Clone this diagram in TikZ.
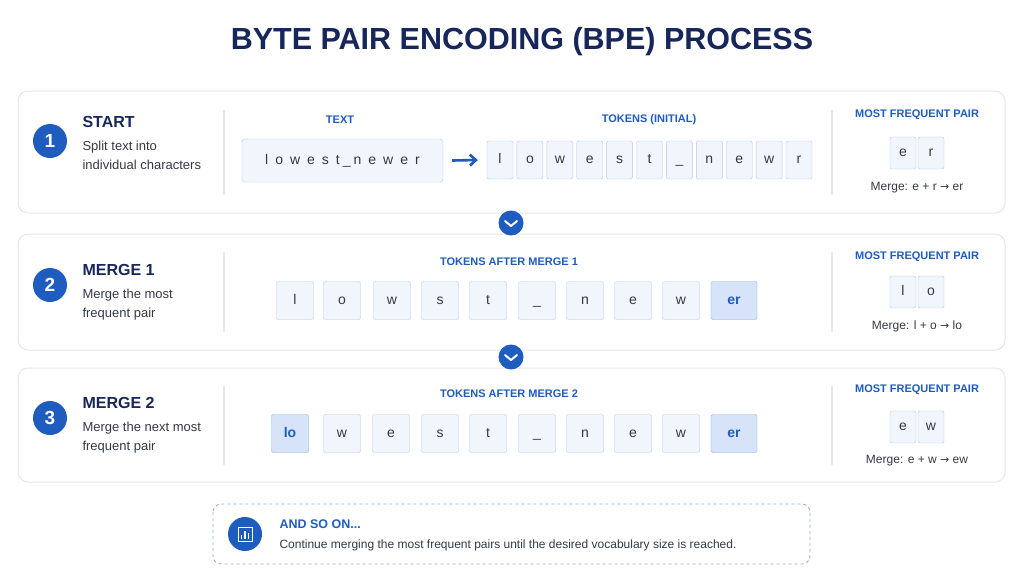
\documentclass[tikz,border=0pt]{standalone}
\usepackage{fontspec}
\setmainfont{Liberation Sans}
\newfontfamily\dvs{DejaVu Sans}
\usetikzlibrary{arrows.meta}
\definecolor{navy}{HTML}{17275A}
\definecolor{blu}{HTML}{1E5CC0}
\definecolor{tokfill}{HTML}{F1F5FC}
\definecolor{tokdraw}{HTML}{B7C8E4}
\definecolor{hifill}{HTML}{D6E3F8}
\definecolor{panel}{HTML}{E3E6EC}
\definecolor{txt}{HTML}{333A45}
\newcommand{\myarr}{{\dvs\fontsize{11}{11}\selectfont →}}
\begin{document}
\begin{tikzpicture}[x=1pt,y=-1pt,
 panel/.style={draw=panel,line width=1pt,rounded corners=10pt,fill=white},
 num/.style={circle,fill=blu,minimum size=34pt,inner sep=0pt,text=white,font=\fontsize{19}{19}\selectfont\bfseries},
 head/.style={anchor=west,text=navy,font=\fontsize{16}{16}\selectfont\bfseries},
 desc/.style={anchor=north west,text=txt,align=left,font=\fontsize{13}{19}\selectfont},
 lab/.style={text=blu,font=\fontsize{11}{11}\selectfont\bfseries},
 tbase/.style={draw=tokdraw,fill=tokfill,rounded corners=2pt,inner sep=0pt,text=txt,text height=9pt,text depth=2pt,font=\fontsize{14}{14}\selectfont},
 tok/.style={tbase,minimum width=26pt,minimum height=38pt},
 tk/.style={tbase,minimum width=37pt,minimum height=38pt},
 hi/.style={fill=hifill,draw=blu!50,text=blu,font=\fontsize{14}{14}\selectfont\bfseries},
 pr/.style={tbase,minimum width=26pt,minimum height=32pt},
 mg/.style={text=txt,font=\fontsize{12}{12}\selectfont},
 div/.style={draw=panel,line width=1.2pt},
 chev/.style={circle,fill=blu,minimum size=25pt,inner sep=0pt}]
\useasboundingbox (0,0) rectangle (1024,576);
\fill[white] (0,0) rectangle (1024,576);
\node[text=navy,font=\fontsize{30.5}{30}\selectfont\bfseries] (title) at (522,42) {BYTE PAIR ENCODING (BPE) PROCESS};
% panels
\draw[panel] (18,91) rectangle (1005,213);
\draw[panel] (18,234) rectangle (1005,350);
\draw[panel] (18,368) rectangle (1005,482);
% chevrons
\foreach \y/\n in {223/c1,357/c2}{
 \node[chev] (\n) at (511,\y) {};
 \draw[white,line width=2pt,line cap=round,line join=round] (505,\y-2) -- (511,\y+3) -- (517,\y-2);}
% dividers
\draw[div] (224,110) -- (224,195); \draw[div] (832,110) -- (832,195);
\draw[div] (224,252) -- (224,332); \draw[div] (832,252) -- (832,332);
\draw[div] (224,386) -- (224,465); \draw[div] (832,386) -- (832,465);
% left columns
\node[num] (n1) at (50,141) {1};
\node[head] (h1) at (79,122) {START};
\node[desc] (d1) at (79,138) {Split text into\\individual characters};
\node[num] (n2) at (50,285) {2};
\node[head] (h2) at (79,270) {MERGE 1};
\node[desc] (d2) at (79,286) {Merge the most\\frequent pair};
\node[num] (n3) at (50,418) {3};
\node[head] (h3) at (79,403) {MERGE 2};
\node[desc] (d3) at (79,419) {Merge the next most\\frequent pair};
% panel 1 middle
\node[lab] (lt) at (340,120) {TEXT};
\node[draw=tokdraw,fill=tokfill,rounded corners=3pt,minimum width=201pt,minimum height=43pt,text=txt,font=\fontsize{14}{14}\selectfont] (tb) at (342.5,160.5) {l\hspace{7pt}o\hspace{7pt}w\hspace{7pt}e\hspace{7pt}s\hspace{7pt}t\hspace{3pt}\_\hspace{3pt}n\hspace{7pt}e\hspace{7pt}w\hspace{7pt}e\hspace{7pt}r};
\node[lab] (lti) at (649,120) {TOKENS (INITIAL)};
\foreach \c [count=\i] in {l,o,w,e,s,t,\_,n,e,w,r}
 \node[tok] (t\i) at (500+\i*29.9-29.9,160) {\c};
\draw[blu,line width=2.6pt,-{Straight Barb[length=6pt,width=11pt]}] ([xshift=9pt]tb.east) -- ([xshift=-9pt]t1.west);
% panel 2
\node[lab] (l2) at (509,262) {TOKENS AFTER MERGE 1};
\foreach \c/\x [count=\i] in {l/295,o/342,w/392,s/440,t/488,\_/537,n/585,e/633,w/681}
 \node[tk] (m\i) at (\x,300.5) {\c};
\node[tk,hi,minimum width=46pt] (m10) at (734,300.5) {er};
% panel 3
\node[lab] (l3) at (509,394) {TOKENS AFTER MERGE 2};
\node[tk,hi] (k1) at (290,433.5) {lo};
\foreach \c/\x [count=\i from 2] in {w/342,e/391,s/440,t/488,\_/537,n/585,e/633,w/681}
 \node[tk] (k\i) at (\x,433.5) {\c};
\node[tk,hi,minimum width=46pt] (k10) at (734,433.5) {er};
% right columns
\node[lab] (r1) at (917,115) {MOST FREQUENT PAIR};
\node[pr] (p1a) at (903,153) {e}; \node[pr] (p1b) at (931,153) {r};
\node[mg] (g1) at (917,188) {Merge: e + r \myarr{} er};
\node[lab] (r2) at (917,257) {MOST FREQUENT PAIR};
\node[pr] (p2a) at (903,292) {l}; \node[pr] (p2b) at (931,292) {o};
\node[mg] (g2) at (917,326) {Merge: l + o \myarr{} lo};
\node[lab] (r3) at (917,390) {MOST FREQUENT PAIR};
\node[pr] (p3a) at (903,427) {e}; \node[pr] (p3b) at (931,427) {w};
\node[mg] (g3) at (917,461) {Merge: e + w \myarr{} ew};
% bottom
\draw[blu!50,dashed,line width=0.9pt,rounded corners=8pt] (213,504) rectangle (810,564);
\node[circle,fill=blu,minimum size=34pt,inner sep=0pt] (ic) at (245,534) {};
\draw[white,line width=1pt] (238,527) rectangle (252,541);
\draw[white,line width=1.6pt] (241.5,539) -- (241.5,535) (245,539) -- (245,531) (248.5,539) -- (248.5,533);
\node[anchor=west,text=blu,font=\fontsize{12.5}{12}\selectfont\bfseries] (so) at (276,524) {AND SO ON...};
\node[anchor=west,text=txt,font=\fontsize{12}{12}\selectfont] (sd) at (276,545) {Continue merging the most frequent pairs until the desired vocabulary size is reached.};
\end{tikzpicture}
\end{document}
